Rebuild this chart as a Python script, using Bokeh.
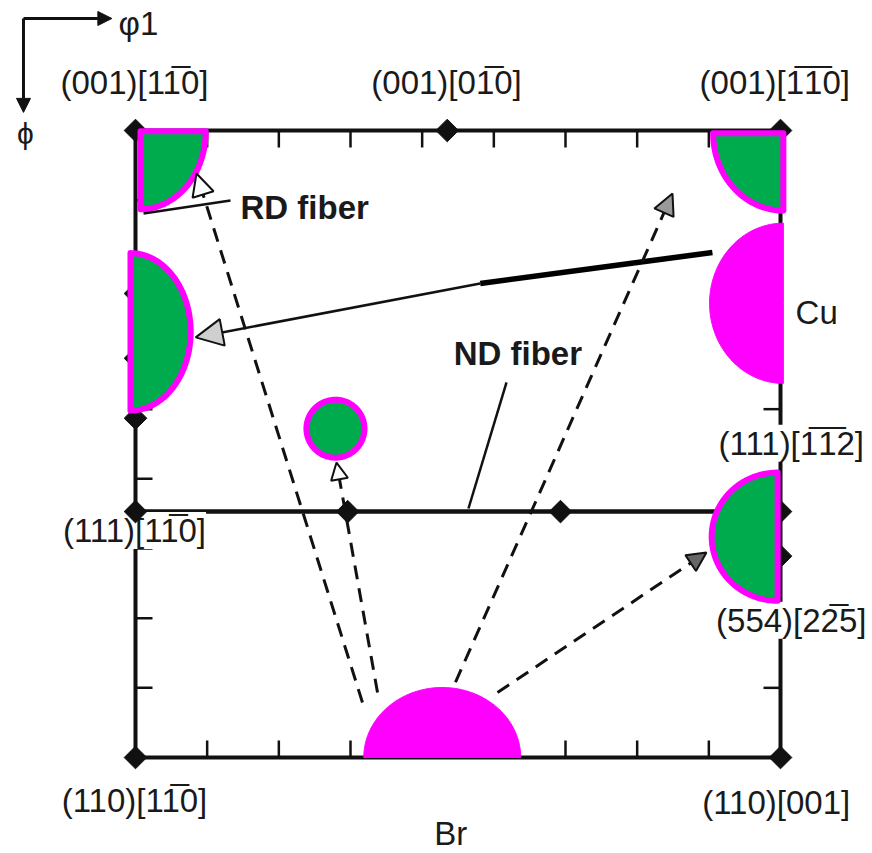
import numpy as np
from bokeh.plotting import figure
from bokeh.models import Range1d, Arrow, NormalHead, ColumnDataSource
from bokeh.core.properties import value
from bokeh.embed import file_html
from bokeh.resources import INLINE

OB = "\u0305"  # combining overline (bar over Miller index)

# ---------------- data (Euler angles in degrees, phi2 = 45 deg section) ----------------
tick_vals = [10, 20, 30, 40, 50, 60, 70, 80]

# ideal orientations (diamonds)
ori_phi1 = [0, 43.5, 90, 0, 0, 0, 0, 29.6, 59.3, 90, 90, 0, 90]
ori_Phi = [0, 0, 0, 23.4, 32.7, 41.3, 54.7, 54.7, 54.7, 54.7, 61.1, 90, 90]

# gamma / ND fibre
nd_phi1 = [0, 90]
nd_Phi = [54.7, 54.7]

# texture components: centre, spread (phi1, Phi), arc of the visible part
comp_name = ["TL", "TR", "left", "small", "Cu", "554", "Br"]
comp_phi1 = [0.7, 90.4, -0.7, 27.9, 90.4, 89.6, 42.8]
comp_Phi = [0.1, 0.4, 28.9, 42.8, 24.8, 58.3, 90.0]
comp_dphi1 = [9.1, 9.8, 8.4, 4.05, 10.3, 9.2, 10.95]
comp_dPhi = [11.2, 11.1, 11.3, 4.16, 11.5, 9.2, 10.05]
comp_a0 = [0, 90, -90, 0, 90, 90, 180]
comp_a1 = [90, 180, 90, 360, 270, 270, 360]

# labels
lab_text = ["(001)[11" + OB + "0]", "(001)[01" + OB + "0]", "(001)[1" + OB + "1" + OB + "0]",
            "(111)[1" + OB + "1" + OB + "2]", "(554)[22" + OB + "5]", "(111)[11" + OB + "0]",
            "(110)[11" + OB + "0]", "(110)[001]", "Br"]
lab_phi1 = [-0.14, 43.4, 89.2, 91.5, 91.5, -0.14, -0.14, 89.4, 44.0]
lab_Phi = [-6.9, -6.9, -6.9, 44.9, 70.3, 57.4, 96.2, 96.5, 100.9]

GREEN = "#00AB4E"
MAG = "#FF00FF"
INK = "#111111"

# ---------------- figure ----------------
X0, KX = 135.0, 645.0 / 90.0
Y0, KY = 130.0, 627.0 / 90.0
W, H = 872, 853
p = figure(width=W, height=H,
           x_range=Range1d((0 - X0) / KX, (W - X0) / KX),
           y_range=Range1d((H - Y0) / KY, (0 - Y0) / KY),
           output_backend="svg", toolbar_location=None, min_border=0)
p.axis.visible = False
p.grid.visible = False
p.outline_line_color = None
p.background_fill_color = "white"

# frame
p.segment(x0=[0, 0, 0, 90], y0=[0, 90, 0, 0], x1=[90, 90, 0, 90], y1=[0, 90, 90, 90],
          line_color=INK, line_width=4, line_cap="square")
# inward ticks
tl_y = 17.0 / KY
tl_x = 17.0 / KX
tv = np.array(tick_vals, dtype=float)
p.segment(x0=tv, y0=np.zeros_like(tv), x1=tv, y1=np.full_like(tv, tl_y), line_color=INK, line_width=2.5)
p.segment(x0=tv, y0=np.full_like(tv, 90), x1=tv, y1=np.full_like(tv, 90 - tl_y), line_color=INK, line_width=2.5)
p.segment(x0=np.zeros_like(tv), y0=tv, x1=np.full_like(tv, tl_x), y1=tv, line_color=INK, line_width=2.5)
p.segment(x0=np.full_like(tv, 90), y0=tv, x1=np.full_like(tv, 90 - tl_x), y1=tv, line_color=INK, line_width=2.5)
# ND fibre line
p.line(nd_phi1, nd_Phi, line_color=INK, line_width=4.5)

# labels that sit on the frame (white background)
bg_idx = [3, 4, 5]
src_bg = ColumnDataSource(dict(x=[lab_phi1[i] for i in bg_idx], y=[lab_Phi[i] for i in bg_idx],
                               t=[lab_text[i] for i in bg_idx]))
p.text(x="x", y="y", text="t", source=src_bg, text_font=value("Liberation Sans"),
       text_font_size=value("33px"), text_align="center", text_baseline="middle",
       text_color="#1a1a1a", background_fill_color="white")

# ideal orientations
p.scatter(ori_phi1, ori_Phi, marker="square", size=16, angle=np.pi / 4,
          fill_color=INK, line_color=INK)

# texture components
comp_fill = [GREEN, GREEN, GREEN, GREEN, MAG, GREEN, MAG]
comp_line = [MAG, MAG, MAG, MAG, None, MAG, None]
for cx, cy, w, h, a0, a1, fc, lc in zip(comp_phi1, comp_Phi, comp_dphi1, comp_dPhi,
                                         comp_a0, comp_a1, comp_fill, comp_line):
    t = np.radians(np.linspace(a0, a1, 120))
    xs = list(cx + w * np.cos(t))
    ys = list(cy + h * np.sin(t))
    if a1 - a0 < 360:
        xs.append(cx)
        ys.append(cy)
    if lc is None:
        p.patch(xs, ys, fill_color=fc, line_color=fc, line_width=1)
    else:
        p.patch(xs, ys, fill_color=fc, line_color=lc, line_width=6, line_join="round")

# leader lines for fibre labels
p.segment(x0=[1.12, 51.77], y0=[11.9, 36.17], x1=[13.26, 46.46], y1=[10.05, 54.26],
          line_color=INK, line_width=2.5)
# Cu -> arrow (thick part)
p.segment(x0=[80.5], y0=[17.5], x1=[48.1], y1=[21.96], line_color="black", line_width=5.5)

p.add_layout(Arrow(end=NormalHead(size=27, fill_color="#cfcfcf", line_color=INK, line_width=2),
                   x_start=48.1, y_start=21.96, x_end=8.4, y_end=29.7,
                   line_color=INK, line_width=2.5))

dash = "14 9"
p.add_layout(Arrow(end=NormalHead(size=22, fill_color="white", line_color=INK, line_width=2),
                   x_start=31.67, y_start=82.1, x_end=8.51, y_end=6.17,
                   line_color=INK, line_width=3, line_dash=dash))
p.add_layout(Arrow(end=NormalHead(size=17, fill_color="white", line_color=INK, line_width=2),
                   x_start=33.77, y_start=80.67, x_end=28.05, y_end=47.66,
                   line_color=INK, line_width=3, line_dash=dash))
p.add_layout(Arrow(end=NormalHead(size=21, fill_color="#999999", line_color=INK, line_width=2),
                   x_start=44.65, y_start=79.2, x_end=74.93, y_end=9.04,
                   line_color=INK, line_width=3, line_dash=dash))
p.add_layout(Arrow(end=NormalHead(size=19, fill_color="#666666", line_color=INK, line_width=2),
                   x_start=50.51, y_start=80.67, x_end=79.67, y_end=60.57,
                   line_color=INK, line_width=3, line_dash=dash))

# coordinate-system indicator
p.add_layout(Arrow(end=NormalHead(size=14, fill_color=INK, line_color=INK),
                   x_start=-15.63, y_start=-16.08, x_end=-3.3, y_end=-16.08,
                   line_color=INK, line_width=3))
p.add_layout(Arrow(end=NormalHead(size=14, fill_color=INK, line_color=INK),
                   x_start=-15.63, y_start=-16.08, x_end=-15.63, y_end=-2.6,
                   line_color=INK, line_width=3))

# remaining labels
fg_idx = [0, 1, 2, 6, 7, 8]
src_fg = ColumnDataSource(dict(x=[lab_phi1[i] for i in fg_idx], y=[lab_Phi[i] for i in fg_idx],
                               t=[lab_text[i] for i in fg_idx]))
p.text(x="x", y="y", text="t", source=src_fg, text_font=value("Liberation Sans"),
       text_font_size=value("33px"), text_align="center", text_baseline="middle",
       text_color="#1a1a1a")
p.text(x=[92.1], y=[26.1], text=["Cu"], text_font=value("Liberation Sans"),
       text_font_size=value("33px"), text_align="left", text_baseline="middle", text_color="#1a1a1a")
p.text(x=[-2.37], y=[-15.4], text=["\u03c61"], text_font=value("Liberation Sans"),
       text_font_size=value("33px"), text_align="left", text_baseline="middle", text_color="#1a1a1a")
p.text(x=[-15.35], y=[0.43], text=["\u03d5"], text_font=value("Liberation Sans"),
       text_font_size=value("30px"), text_align="center", text_baseline="middle", text_color="#1a1a1a")
p.text(x=[14.65, 44.4], y=[11.05, 32.0], text=["RD fiber", "ND fiber"],
       text_font=value("Liberation Sans"), text_font_style="bold",
       text_font_size=value("33px"), text_align="left", text_baseline="middle", text_color="#1a1a1a")

open("out.html", "w").write(file_html(p, INLINE))
